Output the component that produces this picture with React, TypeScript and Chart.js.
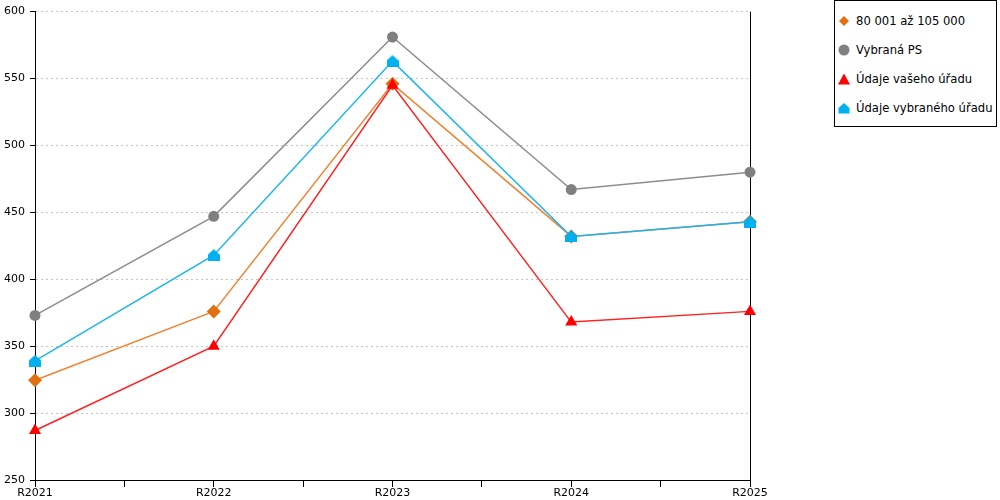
import React, { useEffect, useRef } from 'react';
import { Chart, registerables } from 'chart.js';

Chart.register(...registerables);

const categories = ['R2021', 'R2022', 'R2023', 'R2024', 'R2025'];
const bandValues = [324.5, 376, 546, 432, 443];
const psValues = [373, 447, 581, 467, 480];
const yourOfficeValues = [287, 350, 545, 368, 376];
const chosenOfficeValues = [339, 418, 563, 432, 443];
const seriesNames = ['80 001 až 105 000', 'Vybraná PS', 'Údaje vašeho úřadu', 'Údaje vybraného úřadu'];

const toPoints = (values: number[]) => values.map((v, i) => ({ x: i, y: v }));

// small "house" marker for the last series
const makeHouse = (color: string, size: number) => {
    const c = document.createElement('canvas');
    c.width = size;
    c.height = size;
    const g = c.getContext('2d');
    if (g) {
        g.fillStyle = color;
        g.beginPath();
        g.moveTo(size / 2, 0);
        g.lineTo(size, size * 0.45);
        g.lineTo(size, size);
        g.lineTo(0, size);
        g.lineTo(0, size * 0.45);
        g.closePath();
        g.fill();
    }
    return c;
};

const legendMarkers = [
    <polygon key="d" points="6,1 11,6 6,11 1,6" fill="#E07010" />,
    <circle key="c" cx="6" cy="6" r="5.5" fill="#808080" />,
    <polygon key="t" points="6,0.5 12,11.5 0,11.5" fill="#FF0000" />,
    <polygon key="h" points="6,1 11.5,6 11.5,11.5 0.5,11.5 0.5,6" fill="#00B0F0" />,
];

const App: React.FC = () => {
    const chartRef = useRef<HTMLCanvasElement>(null);
    const chartInstance = useRef<Chart | null>(null);

    useEffect(() => {
        document.body.style.margin = '0';
        const ctx = chartRef.current?.getContext('2d');
        if (!ctx) return;
        if (chartInstance.current) chartInstance.current.destroy();

        const font = { family: 'DejaVu Sans', size: 11 };

        chartInstance.current = new Chart(ctx, {
            type: 'line',
            data: {
                datasets: [
                    {
                        label: seriesNames[0],
                        data: toPoints(bandValues),
                        borderColor: '#EE8433',
                        backgroundColor: '#E07010',
                        pointBackgroundColor: '#E07010',
                        pointBorderWidth: 0,
                        pointStyle: 'rectRot',
                        pointRadius: 7,
                        borderWidth: 1.5,
                        order: 3,
                    },
                    {
                        label: seriesNames[1],
                        data: toPoints(psValues),
                        borderColor: '#8C8C8C',
                        pointBackgroundColor: '#808080',
                        pointBorderWidth: 0,
                        pointStyle: 'circle',
                        pointRadius: 5.5,
                        borderWidth: 1.5,
                        order: 2,
                    },
                    {
                        label: seriesNames[2],
                        data: toPoints(yourOfficeValues),
                        borderColor: '#FF2020',
                        pointBackgroundColor: '#FF0000',
                        pointBorderWidth: 0,
                        pointStyle: 'triangle',
                        pointRadius: 7,
                        borderWidth: 1.5,
                        order: 1,
                    },
                    {
                        label: seriesNames[3],
                        data: toPoints(chosenOfficeValues),
                        borderColor: '#1CB6EE',
                        pointBackgroundColor: '#00B0F0',
                        pointBorderWidth: 0,
                        pointStyle: makeHouse('#00B0F0', 12),
                        borderWidth: 1.5,
                        order: 0,
                    },
                ],
            },
            options: {
                animation: false,
                responsive: false,
                maintainAspectRatio: false,
                layout: { padding: { left: 0, right: 250, top: 0, bottom: 0 } },
                elements: { line: { tension: 0 } },
                datasets: { line: { clip: false } as any },
                scales: {
                    x: {
                        type: 'linear',
                        min: 0,
                        max: categories.length - 1,
                        border: { display: true, color: '#000', width: 1 },
                        grid: {
                            color: (c: any) => (c.tick && c.tick.value === categories.length - 1 ? '#000' : 'rgba(0,0,0,0)'),
                            tickColor: '#000',
                            tickLength: 7,
                            lineWidth: 1,
                        },
                        ticks: {
                            stepSize: 0.5,
                            autoSkip: false,
                            maxRotation: 0,
                            padding: 0,
                            color: '#000',
                            font,
                            callback: (v: any) => (Number.isInteger(v) ? categories[v] : ''),
                        },
                        afterFit: (s: any) => {
                            s.height = 20;
                        },
                    },
                    y: {
                        min: 250,
                        max: 600,
                        border: { display: true, color: '#000', width: 1, dash: [2, 3] },
                        grid: {
                            color: '#C4C4C4',
                            tickColor: '#000',
                            tickBorderDash: [],
                            tickLength: 5,
                            lineWidth: 1,
                        } as any,
                        ticks: { stepSize: 50, padding: 5, color: '#000', font },
                        afterFit: (s: any) => {
                            s.width = 35;
                        },
                    },
                },
                plugins: {
                    legend: { display: false },
                    tooltip: { enabled: false },
                },
            },
        });

        return () => {
            if (chartInstance.current) {
                chartInstance.current.destroy();
                chartInstance.current = null;
            }
        };
    }, []);

    return (
        <div style={{ position: 'relative', width: 1000, height: 500, fontFamily: 'DejaVu Sans' }}>
            <canvas ref={chartRef} width={1000} height={500} style={{ position: 'absolute', left: 0, top: 0 }}></canvas>
            <div
                style={{
                    position: 'absolute',
                    left: 834,
                    top: 0,
                    width: 161,
                    height: 125,
                    border: '1px solid #000',
                    background: '#fff',
                    fontSize: 11.6,
                    color: '#000',
                }}
            >
                {seriesNames.map((name, i) => (
                    <div
                        key={name}
                        style={{ position: 'absolute', left: 3, top: 12 + i * 29, height: 16, display: 'flex', alignItems: 'center', whiteSpace: 'nowrap' }}
                    >
                        <svg width="12" height="12" style={{ marginRight: 6 }}>
                            {legendMarkers[i]}
                        </svg>
                        {name}
                    </div>
                ))}
            </div>
        </div>
    );
};

export default App;
